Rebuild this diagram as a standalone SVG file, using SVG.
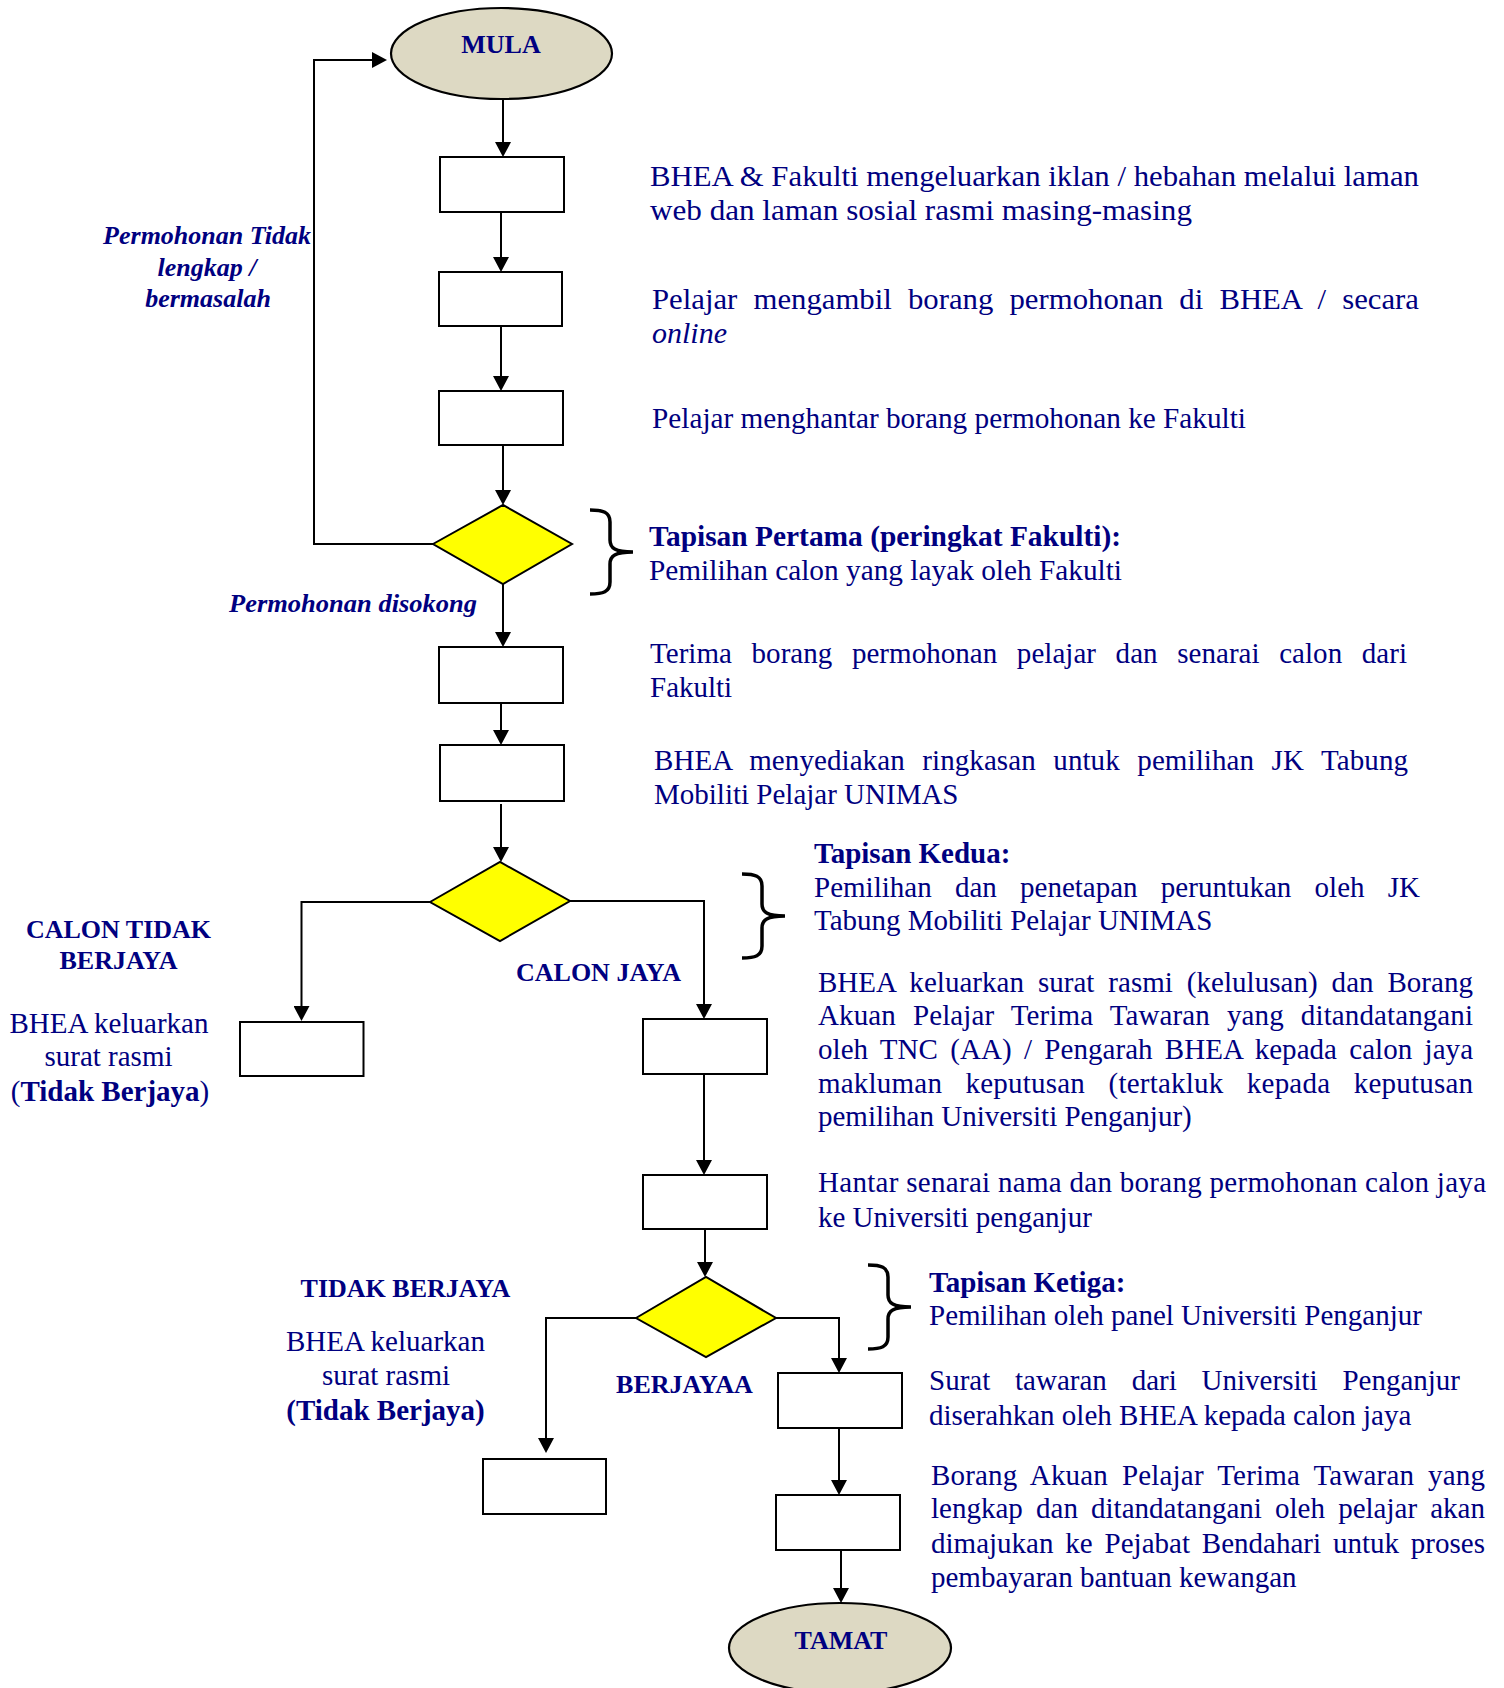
<svg xmlns="http://www.w3.org/2000/svg" xmlns:xlink="http://www.w3.org/1999/xlink" width="1504" height="1688" viewBox="0 0 1504 1688">
<style>
  .t { font-family: "Liberation Serif", "Times New Roman", serif; font-size: 29px; fill: #000080; }
  .b { font-weight: bold; }
  .i { font-style: italic; }
  .lbl { font-family: "Liberation Serif", "Times New Roman", serif; font-size: 26px; font-weight: bold; fill: #000080; }
  .box { fill: #ffffff; stroke: #000000; stroke-width: 2; }
  .dia { fill: #ffff00; stroke: #000000; stroke-width: 2; }
  .term { fill: #ddd9c3; stroke: #000000; stroke-width: 2.2; }
  .conn { fill: none; stroke: #000000; stroke-width: 2; marker-end: url(#ah); }
  .brace { fill: none; stroke: #000000; stroke-width: 3.5; stroke-linecap: butt; }
</style>
<defs>
  <marker id="ah" viewBox="0 0 15 16" refX="11" refY="8" markerWidth="15" markerHeight="16" markerUnits="userSpaceOnUse" orient="auto">
    <path d="M0,0 L15,8 L0,16 z" fill="#000000"/>
  </marker>
  <path id="brace" class="brace" d="M0,1 C13,1 20,3 20,13 L20,31 C20,39 25,43 43,43 C25,43 20,47 20,55 L20,73 C20,83 13,85 0,85"/>
</defs>
<rect x="0" y="0" width="1504" height="1688" fill="#ffffff"/>

<g id="connectors">
  <path class="conn" d="M433,544 H314 V60 H383"/>
  <path class="conn" d="M503,99 V153"/>
  <path class="conn" d="M501,212 V268"/>
  <path class="conn" d="M501,326 V387"/>
  <path class="conn" d="M503,445 V501"/>
  <path class="conn" d="M503,584 V643"/>
  <path class="conn" d="M501,703 V741"/>
  <path class="conn" d="M501,804 V858"/>
  <path class="conn" d="M430,902 H301.5 V1017"/>
  <path class="conn" d="M570,901 H704 V1015"/>
  <path class="conn" d="M704,1074 V1171"/>
  <path class="conn" d="M705,1229 V1273"/>
  <path class="conn" d="M636,1318 H546 V1449"/>
  <path class="conn" d="M776,1318 H839 V1369"/>
  <path class="conn" d="M839,1428 V1491"/>
  <path class="conn" d="M841,1550 V1599"/>
</g>

<g id="mula">
  <ellipse class="term" cx="501.5" cy="53.5" rx="110.5" ry="45.5"/>
  <text class="lbl" x="501" y="53" text-anchor="middle">MULA</text>
</g>

<g id="step1">
  <rect class="box" x="440" y="157" width="124" height="55"/>
  <text class="t" x="650" y="186" textLength="769" lengthAdjust="spacingAndGlyphs">BHEA &amp; Fakulti mengeluarkan iklan / hebahan melalui laman</text>
  <text class="t" x="650" y="220" textLength="542" lengthAdjust="spacingAndGlyphs">web dan laman sosial rasmi masing-masing</text>
</g>

<g id="step2">
  <rect class="box" x="439" y="272" width="123" height="54"/>
  <text class="t" x="652" y="309" word-spacing="8" textLength="767" lengthAdjust="spacingAndGlyphs">Pelajar mengambil borang permohonan di BHEA / secara</text>
  <text class="t i" x="652" y="343" textLength="75" lengthAdjust="spacingAndGlyphs">online</text>
</g>

<g id="step3">
  <rect class="box" x="439" y="391" width="124" height="54"/>
  <text class="t" x="652" y="428" textLength="594" lengthAdjust="spacingAndGlyphs">Pelajar menghantar borang permohonan ke Fakulti</text>
</g>

<g id="decision1">
  <polygon class="dia" points="433,544 503,505 572,544 503,584"/>
  <use xlink:href="#brace" href="#brace" x="590" y="509"/>
  <text class="t b" x="649" y="546" textLength="472" lengthAdjust="spacingAndGlyphs">Tapisan Pertama (peringkat Fakulti):</text>
  <text class="t" x="649" y="580" textLength="473" lengthAdjust="spacingAndGlyphs">Pemilihan calon yang layak oleh Fakulti</text>
  <text class="t b i" style="font-size:26px" x="207" y="244" text-anchor="middle">Permohonan Tidak</text>
  <text class="t b i" style="font-size:26px" x="207" y="276" text-anchor="middle">lengkap /</text>
  <text class="t b i" style="font-size:26px" x="208" y="307" text-anchor="middle">bermasalah</text>
  <text class="t b i" style="font-size:26px" x="229" y="612" textLength="248" lengthAdjust="spacingAndGlyphs">Permohonan disokong</text>
</g>

<g id="step4">
  <rect class="box" x="439" y="647" width="124" height="56"/>
  <text class="t" x="650" y="663" word-spacing="12.3" textLength="757" lengthAdjust="spacing">Terima borang permohonan pelajar dan senarai calon dari</text>
  <text class="t" x="650" y="697">Fakulti</text>
</g>

<g id="step5">
  <rect class="box" x="440" y="745" width="124" height="56"/>
  <text class="t" x="654" y="770" word-spacing="10.2" textLength="754" lengthAdjust="spacing">BHEA menyediakan ringkasan untuk pemilihan JK Tabung</text>
  <text class="t" x="654" y="804">Mobiliti Pelajar UNIMAS</text>
</g>

<g id="decision2">
  <polygon class="dia" points="430,902 500,862 570,901 500,941"/>
  <use xlink:href="#brace" href="#brace" x="742" y="873"/>
  <text class="t b" x="814" y="863">Tapisan Kedua:</text>
  <text class="t" x="814" y="897" word-spacing="16" textLength="606" lengthAdjust="spacing">Pemilihan dan penetapan peruntukan oleh JK</text>
  <text class="t" x="814" y="930">Tabung Mobiliti Pelajar UNIMAS</text>
  <text class="lbl" x="118.5" y="938" text-anchor="middle">CALON TIDAK</text>
  <text class="lbl" x="118.5" y="969" text-anchor="middle">BERJAYA</text>
  <text class="lbl" x="516" y="981">CALON JAYA</text>
</g>

<g id="reject1">
  <rect class="box" x="240" y="1022" width="123.5" height="54"/>
  <text class="t" x="109" y="1033" text-anchor="middle">BHEA keluarkan</text>
  <text class="t" x="108.5" y="1066" text-anchor="middle">surat rasmi</text>
  <text class="t" x="110" y="1101" text-anchor="middle">(<tspan class="b">Tidak Berjaya</tspan>)</text>
</g>

<g id="step6">
  <rect class="box" x="643" y="1019" width="124" height="55"/>
  <text class="t" x="818" y="992" word-spacing="6.6" textLength="655" lengthAdjust="spacing">BHEA keluarkan surat rasmi (kelulusan) dan Borang</text>
  <text class="t" x="818" y="1025" word-spacing="9.7" textLength="655" lengthAdjust="spacing">Akuan Pelajar Terima Tawaran yang ditandatangani</text>
  <text class="t" x="818" y="1059" word-spacing="5" textLength="655" lengthAdjust="spacing">oleh TNC (AA) / Pengarah BHEA kepada calon jaya</text>
  <text class="t" x="818" y="1093" word-spacing="16" textLength="655" lengthAdjust="spacing">makluman keputusan (tertakluk kepada keputusan</text>
  <text class="t" x="818" y="1126">pemilihan Universiti Penganjur)</text>
</g>

<g id="step7">
  <rect class="box" x="643" y="1175" width="124" height="54"/>
  <text class="t" x="818" y="1192" textLength="668" lengthAdjust="spacing">Hantar senarai nama dan borang permohonan calon jaya</text>
  <text class="t" x="818" y="1227">ke Universiti penganjur</text>
</g>

<g id="decision3">
  <polygon class="dia" points="636,1318 706,1277 776,1318 706,1357"/>
  <use xlink:href="#brace" href="#brace" x="868" y="1264"/>
  <text class="t b" x="929" y="1292">Tapisan Ketiga:</text>
  <text class="t" x="929" y="1325">Pemilihan oleh panel Universiti Penganjur</text>
  <text class="lbl" x="405.5" y="1297" text-anchor="middle">TIDAK BERJAYA</text>
  <text class="lbl" x="684.5" y="1393" text-anchor="middle">BERJAYAA</text>
</g>

<g id="reject2">
  <rect class="box" x="483" y="1459" width="123" height="55"/>
  <text class="t" x="385.5" y="1351" text-anchor="middle">BHEA keluarkan</text>
  <text class="t" x="386" y="1385" text-anchor="middle">surat rasmi</text>
  <text class="t b" x="385.5" y="1420" text-anchor="middle">(Tidak Berjaya)</text>
</g>

<g id="step8">
  <rect class="box" x="778" y="1373" width="124" height="55"/>
  <text class="t" x="929" y="1390" word-spacing="17.6" textLength="531" lengthAdjust="spacing">Surat tawaran dari Universiti Penganjur</text>
  <text class="t" x="929" y="1425">diserahkan oleh BHEA kepada calon jaya</text>
</g>

<g id="step9">
  <rect class="box" x="776" y="1495" width="124" height="55"/>
  <text class="t" x="931" y="1485" word-spacing="6.6" textLength="554" lengthAdjust="spacing">Borang Akuan Pelajar Terima Tawaran yang</text>
  <text class="t" x="931" y="1518" word-spacing="5.9" textLength="554" lengthAdjust="spacing">lengkap dan ditandatangani oleh pelajar akan</text>
  <text class="t" x="931" y="1553" word-spacing="4.6" textLength="554" lengthAdjust="spacing">dimajukan ke Pejabat Bendahari untuk proses</text>
  <text class="t" x="931" y="1587">pembayaran bantuan kewangan</text>
</g>

<g id="tamat">
  <ellipse class="term" cx="840" cy="1648" rx="111" ry="45"/>
  <text class="lbl" x="841" y="1649" text-anchor="middle">TAMAT</text>
</g>
</svg>
